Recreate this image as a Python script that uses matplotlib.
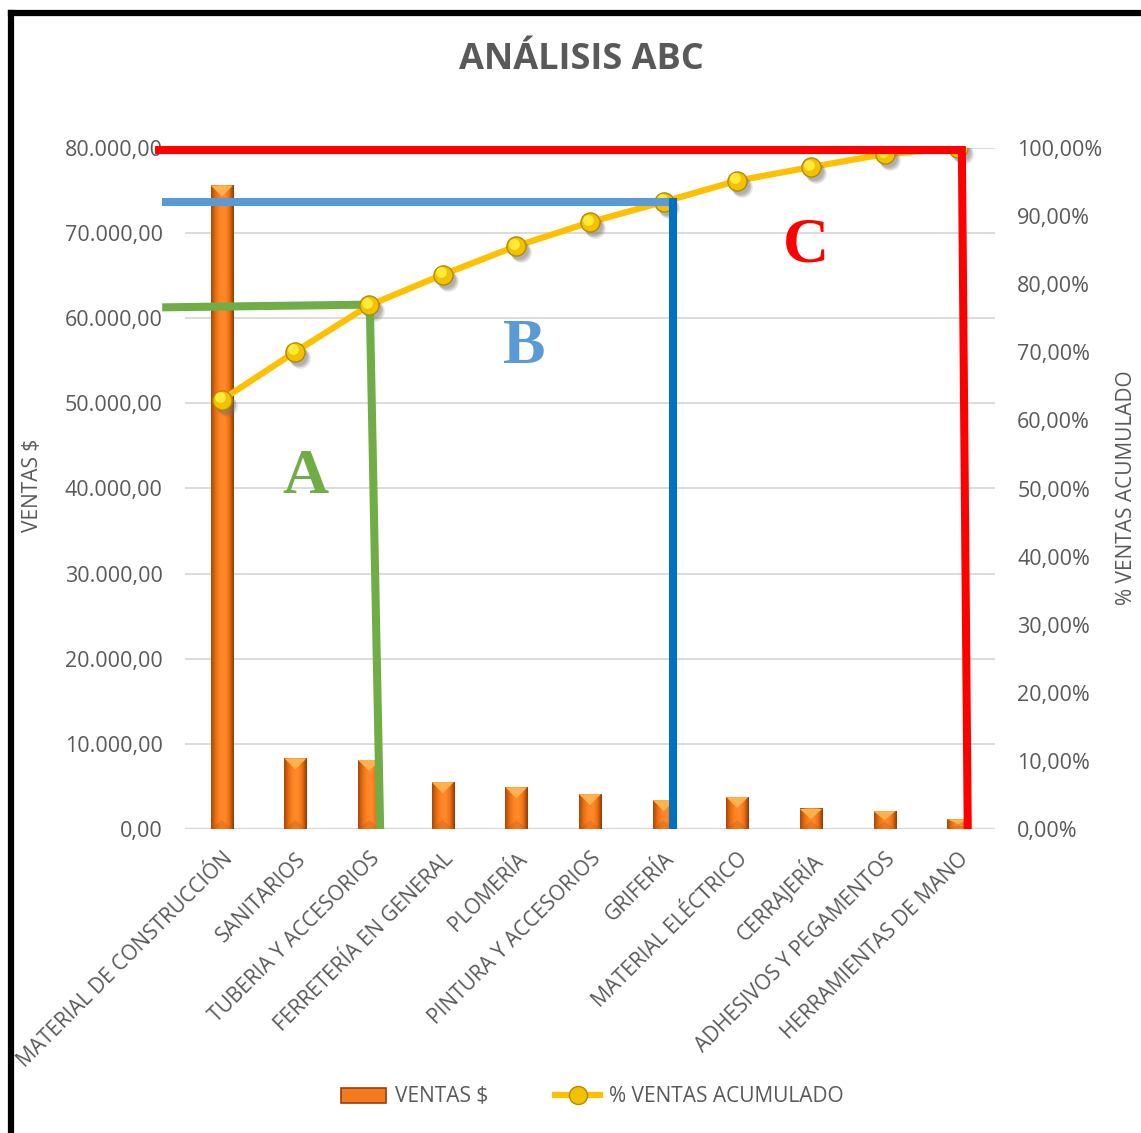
import matplotlib
matplotlib.use("Agg")
import matplotlib.pyplot as plt
import numpy as np
from matplotlib.colors import LinearSegmentedColormap
from matplotlib.patches import Polygon, Patch
from matplotlib.lines import Line2D
import matplotlib.transforms as mtransforms

# ---- data -------------------------------------------------------------
categories = [
    "MATERIAL DE CONSTRUCCIÓN", "SANITARIOS", "TUBERIA Y ACCESORIOS",
    "FERRETERÍA EN GENERAL", "PLOMERÍA", "PINTURA Y ACCESORIOS",
    "GRIFERÍA", "MATERIAL ELÉCTRICO", "CERRAJERÍA",
    "ADHESIVOS Y PEGAMENTOS", "HERRAMIENTAS DE MANO",
]
ventas = [75600, 8300, 8100, 5500, 4900, 4100, 3400, 3750, 2350, 2100, 1150]
pct_acumulado = [63.0, 70.1, 76.9, 81.4, 85.6, 89.1, 92.1, 95.2, 97.2, 99.1, 100.0]
left_ticks = [0, 10000, 20000, 30000, 40000, 50000, 60000, 70000, 80000]
right_ticks = [0, 10, 20, 30, 40, 50, 60, 70, 80, 90, 100]

GRAY = "#595959"
FONT = "Open Sans"
plt.rcParams["font.family"] = [FONT, "DejaVu Sans"]

W, H = 1141, 1133
fig = plt.figure(figsize=(W / 100, H / 100), dpi=100)
fig.patch.set_facecolor("white")

# plot area in pixels: x 185..995, y 148..829
ax = fig.add_axes([185 / W, 1 - 829 / H, 810 / W, 681 / H])
ax2 = ax.twinx()

n = len(categories)
x = np.arange(n)
ax.set_xlim(-0.5, n - 0.5)
ax.set_ylim(0, 80000)
ax2.set_ylim(0, 100)

for a in (ax, ax2):
    for s in a.spines.values():
        s.set_visible(False)
ax.set_facecolor("none")

# gridlines
for t in left_ticks[1:]:
    ax.axhline(t, color="#D9D9D9", lw=1.3, zorder=0)
ax.axhline(0, color="#D9D9D9", lw=2.5, zorder=0.5)

# ---- bars with cylindrical shading ---------------------------------
bar_w = 0.3
bar_cmap = LinearSegmentedColormap.from_list(
    "barshade", ["#A9480A", "#E86E12", "#FF8526", "#FF8A2C", "#EE7214", "#8F3A06"])
grad = np.linspace(0, 1, 64).reshape(1, -1)
bars = ax.bar(x, ventas, width=bar_w, color="#F47A1F", zorder=2, linewidth=0)

fig.canvas.draw()
px_per_x = ax.transData.transform((1, 0))[0] - ax.transData.transform((0, 0))[0]
px_per_y = ax.transData.transform((0, 1000))[1] - ax.transData.transform((0, 0))[1]
half_px = bar_w * px_per_x / 2

for b in bars:
    x0, w, h = b.get_x(), b.get_width(), b.get_height()
    ax.imshow(grad, cmap=bar_cmap, aspect="auto", extent=[x0, x0 + w, 0, h],
              zorder=2.1, interpolation="bicubic")
    d = min(half_px, h * px_per_y / 1000 / 2) / px_per_y * 1000
    top = Polygon([[x0, h], [x0 + w, h], [x0 + w / 2, h - d]], closed=True,
                  facecolor="#FFB24E", edgecolor="none", zorder=2.2)
    ax.add_patch(top)
    shade = Polygon([[x0, 0], [x0 + w, 0], [x0 + w / 2, d * 0.8]], closed=True,
                    facecolor="#C2560C", edgecolor="none", alpha=0.3, zorder=2.2)
    ax.add_patch(shade)
ax.set_xlim(-0.5, n - 0.5)
ax.set_ylim(0, 80000)

# ---- cumulative line -------------------------------------------------
ax2.plot(x, pct_acumulado, color="#FFC000", lw=4.5, zorder=3, solid_capstyle="round")
for k, (dx, dy, a) in enumerate([(5, -6, 0.18), (4, -5, 0.25), (3, -4, 0.25)]):
    shadow_tr = ax2.transData + mtransforms.ScaledTranslation(dx / 100, dy / 100, fig.dpi_scale_trans)
    ax2.scatter(x, pct_acumulado, s=220 - 20 * k, color="#6F6F6F", alpha=a, linewidths=0,
                transform=shadow_tr, zorder=3.1)
ax2.scatter(x, pct_acumulado, s=190, color="#F2C200", edgecolors="#B58900",
            linewidths=1.0, zorder=3.2)
hl_tr = ax2.transData + mtransforms.ScaledTranslation(-2 / 100, 2.5 / 100, fig.dpi_scale_trans)
ax2.scatter(x, pct_acumulado, s=60, color="#FFEA3A", linewidths=0,
            transform=hl_tr, zorder=3.3)

# ---- ABC zone boundaries ---------------------------------------------
lw_zone = 5.8
ax2.plot([-0.907, 10.05, 10.13], [99.7, 99.7, 0], color="#FF0000", lw=lw_zone,
         clip_on=False, zorder=5, solid_joinstyle="miter", solid_capstyle="butt")
ax2.plot([-0.81, 6.13], [pct_acumulado[6], pct_acumulado[6]], color="#5B9BD5",
         lw=lw_zone, clip_on=False, zorder=4, solid_capstyle="butt")
ax2.plot([6.13, 6.13], [pct_acumulado[6] + 0.5, 0], color="#0070C0",
         lw=lw_zone, clip_on=False, zorder=4, solid_capstyle="butt")
ax2.plot([-0.81, 2.01, 2.15], [76.6, 77.0, 0], color="#70AD47", lw=lw_zone,
         clip_on=False, zorder=3.15, solid_joinstyle="miter", solid_capstyle="butt")

serif = ["Liberation Serif", "DejaVu Serif"]
fig.text(305 / W, 1 - 478 / H, "A", color="#70AD47", fontsize=46, fontweight="bold",
         family=serif, ha="center", va="center")
fig.text(524 / W, 1 - 348 / H, "B", color="#5B9BD5", fontsize=46, fontweight="bold",
         family=serif, ha="center", va="center")
fig.text(806 / W, 1 - 246 / H, "C", color="#FF0000", fontsize=46, fontweight="bold",
         family=serif, ha="center", va="center")

# ---- axes ticks ------------------------------------------------------
def fmt_num(v):
    return format(v, ",.2f").replace(",", "X").replace(".", ",").replace("X", ".")

ax.set_yticks(left_ticks)
ax.set_yticklabels([fmt_num(v) for v in left_ticks])
ax2.set_yticks(right_ticks)
ax2.set_yticklabels([f"{v:.2f}%".replace(".", ",") for v in right_ticks])
ax.tick_params(axis="y", length=0, pad=16, labelsize=15.5, labelcolor=GRAY)
ax2.tick_params(axis="y", length=0, pad=16, labelsize=15.5, labelcolor=GRAY)

ax.set_xticks(x)
ax.set_xticklabels(categories, rotation=45, ha="right", rotation_mode="anchor",
                   fontsize=15, color=GRAY)
ax.tick_params(axis="x", length=0, pad=14)

fig.text(32 / W, 1 - 485 / H, "VENTAS $", rotation=90, fontsize=15, color=GRAY,
         ha="center", va="center")
fig.text(1126 / W, 1 - 488 / H, "% VENTAS ACUMULADO", rotation=90, fontsize=15,
         color=GRAY, ha="center", va="center")

fig.text(581 / W, 1 - 60 / H, "ANÁLISIS ABC", fontsize=26, fontweight="bold",
         color=GRAY, ha="center", va="center")

# ---- legend ----------------------------------------------------------
h_bar = Patch(facecolor="#F47A1F", edgecolor="#9A3F06", linewidth=1.2)
h_line = Line2D([], [], color="#FFC000", lw=4.5, marker="o", markersize=13,
                markerfacecolor="#F2C200", markeredgecolor="#B58900")
fig.legend([h_bar, h_line], ["VENTAS $", "% VENTAS ACUMULADO"], ncol=2,
           loc="center", bbox_to_anchor=(592 / W, 1 - 1097 / H), frameon=False,
           fontsize=15, labelcolor=GRAY, handlelength=2.2, handleheight=0.7,
           handletextpad=0.4, columnspacing=3.2)

# ---- frame -----------------------------------------------------------
fig.add_artist(Line2D([11 / W, 11 / W], [0, 1 - 13 / H], color="black", lw=4.5,
                      transform=fig.transFigure, solid_capstyle="projecting"))
fig.add_artist(Line2D([11 / W, 1], [1 - 13 / H, 1 - 13 / H], color="black", lw=4.5,
                      transform=fig.transFigure, solid_capstyle="projecting"))

fig.savefig("out.png", dpi=100, facecolor="white")
